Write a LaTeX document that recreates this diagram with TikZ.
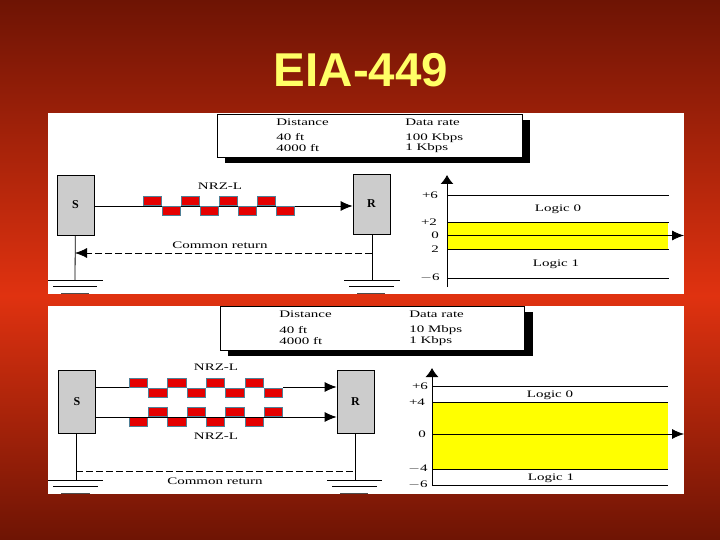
\documentclass[tikz,border=0pt]{standalone}
\usepackage{fontspec}
\setmainfont{Liberation Serif}
\newfontfamily\titlefont{Liberation Sans}
\usetikzlibrary{arrows.meta}
\definecolor{bgdark}{HTML}{6E1404}
\definecolor{bgbright}{HTML}{E03210}
\definecolor{pulseedge}{HTML}{4F7F96}
\definecolor{boxgray}{HTML}{CCCCCC}
\definecolor{levelyellow}{HTML}{FFFF00}
\definecolor{titleyellow}{HTML}{FFFF66}
\tikzset{
    lbl/.style={font=\fontsize{10}{10}\selectfont, inner sep=0pt, transform shape, xscale=1.5},
    lblleft/.style={lbl, anchor=west},
    station/.style={draw=black, fill=boxgray, line width=0.8pt, inner sep=0pt, minimum width=37pt, minimum height=60pt, font=\fontsize{12}{12}\selectfont\bfseries},
    pulse/.style={draw=pulseedge, fill=red!90!black, line width=1pt, inner sep=0pt, minimum width=18.4pt, minimum height=9pt},
    tabbox/.style={draw=black, fill=white, line width=0.8pt, inner sep=0pt},
    tip/.style={-{Latex[length=12pt,width=10pt]}},
    axtip/.style={-{Latex[length=9pt,width=13pt]}},
    retline/.style={dash pattern=on 7pt off 3pt},
}
\begin{document}
\begin{tikzpicture}[x=1pt, y=-1pt]
    \useasboundingbox (0,0) rectangle (720,540);
    % 背景和标题
    \shade[top color=bgdark, bottom color=bgbright] (0,0) rectangle (720,296);
    \shade[top color=bgbright, bottom color=bgdark] (0,295) rectangle (720,540);
    \node[font=\titlefont\bfseries\fontsize{47.5}{48}\selectfont, text=titleyellow, inner sep=0pt] (title) at (361,70) {EIA-449};

    % 两块白色面板
    \fill[white] (48,113) rectangle (684,294);
    \fill[white] (48,306) rectangle (684,494);

    % 上面的表格
    \fill[black] (225,120) rectangle (530,163);
    \node[tabbox, minimum width=305pt, minimum height=43pt] (tabA) at (369.5,135.5) {};
    \node[lblleft] (distA) at (276,122) {Distance};
    \node[lblleft] (distA1) at (276,137) {40 ft};
    \node[lblleft] (distA2) at (276,148) {4000 ft};
    \node[lblleft] (rateA) at (405,122) {Data rate};
    \node[lblleft] (rateA1) at (405,138) {100 Kbps};
    \node[lblleft] (rateA2) at (405,148) {1 Kbps};

    % 上面的收发两端
    \node[station] (sA) at (75.5,205) {S};
    \node[station] (rA) at (371.5,204) {R};
    \draw[tip, thick] (sA.east |- 0,206) -- (rA.west |- 0,206);
    \foreach \i in {0,...,7} {
        \ifodd\i \node[pulse] (pA\i) at ({152.5+\i*19},211) {};
        \else \node[pulse] (pA\i) at ({152.5+\i*19},201) {};
        \fi
    }
    \node[lbl] (nrzA) at (220,186) {NRZ-L};

    % 公共回路和接地
    \coordinate (gsA) at (75,280);
    \coordinate (grA) at (372,280);
    \draw[thick] (sA) -- (gsA);
    \draw[thick] (rA.south -| grA) -- (grA);
    \draw[thick] (48,280) -- (103,280) (53,286) -- (97,286);
    \draw[thick] (344,280) -- (400,280) (349,286) -- (394,286);
    \draw[line width=1.2pt, black!70] (61,293.4) -- (89,293.4) (357,293.4) -- (385,293.4);
    \coordinate (cA) at (372,253);
    \coordinate (cB) at (75,253);
    \draw[tip, retline, thick] (cA) -- (cB);
    \node[lbl] (retA) at (220,245) {Common return};

    % 上面的电平图
    \fill[levelyellow] (447,222) rectangle (668,249);
    \coordinate (axA0) at (447,287);
    \coordinate (axA1) at (447,175);
    \coordinate (zeA0) at (447,235.5);
    \coordinate (zeA1) at (684,235.5);
    \foreach \y in {195,222,249,278} \draw[thick] (447,\y) -- (669,\y);
    \draw[axtip, thick] (axA0) -- (axA1);
    \draw[tip, thick] (zeA0) -- (zeA1);
    \node[lbl] (vA1) at (430,195) {+6};
    \node[lbl] (vA2) at (429,222) {+2};
    \node[lbl] (vA3) at (435,235.5) {0};
    \node[lbl] (vA4) at (435,249) {2};
    \node[lbl] (vA5) at (430,278) {$-$6};
    \node[lbl] (logA0) at (558,209) {Logic 0};
    \node[lbl] (logA1) at (556,264) {Logic 1};

    % 下面的表格
    \fill[black] (228,312) rectangle (533,356);
    \node[tabbox, minimum width=304pt, minimum height=44pt] (tabB) at (372,328) {};
    \node[lblleft] (distB) at (279,314) {Distance};
    \node[lblleft] (distB1) at (279,330) {40 ft};
    \node[lblleft] (distB2) at (279,341) {4000 ft};
    \node[lblleft] (rateB) at (409,314) {Data rate};
    \node[lblleft] (rateB1) at (409,330) {10 Mbps};
    \node[lblleft] (rateB2) at (409,341) {1 Kbps};

    % 下面的收发两端
    \node[station, minimum height=63pt] (sB) at (77,401.5) {S};
    \node[station, minimum height=63pt] (rB) at (355.5,401.5) {R};
    \foreach \i in {0,...,7} {
        \ifodd\i
            \node[pulse] (pB\i) at ({138.5+\i*19.3},393) {};
            \node[pulse] (qB\i) at ({138.5+\i*19.3},411.5) {};
        \else
            \node[pulse] (pB\i) at ({138.5+\i*19.3},382.5) {};
            \node[pulse] (qB\i) at ({138.5+\i*19.3},421.5) {};
        \fi
    }
    \draw[tip, thick] (sB.east |- 0,387) -- (pB0.west |- 0,387) (pB7.east |- 0,387) -- (rB.west |- 0,387);
    \draw[tip, thick] (sB.east |- 0,417) -- (rB.west |- 0,417);
    \node[lbl] (nrzB1) at (216,367) {NRZ-L};
    \node[lbl] (nrzB2) at (216,436) {NRZ-L};

    % 公共回路和接地
    \coordinate (gsB) at (76,480);
    \coordinate (grB) at (355,480);
    \draw[thick] (sB.south -| gsB) -- (gsB);
    \draw[thick] (rB.south -| grB) -- (grB);
    \draw[thick] (48,480) -- (103,480) (53,486) -- (98,486);
    \draw[thick] (327,480) -- (382,480) (332,486) -- (377,486);
    \draw[line width=1.2pt, black!70] (61,493.4) -- (90,493.4) (340,493.4) -- (368,493.4);
    \coordinate (cC) at (76,471);
    \coordinate (cD) at (355,471);
    \draw[retline] (cC) -- (cD);
    \node[lbl] (retB) at (215,481) {Common return};

    % 下面的电平图
    \fill[levelyellow] (433,402) rectangle (668,469);
    \coordinate (axB0) at (432,486);
    \coordinate (axB1) at (432,368);
    \coordinate (zeB0) at (432,434);
    \coordinate (zeB1) at (684,434);
    \foreach \y in {386,402,469,485} \draw[thick] (432,\y) -- (668,\y);
    \draw[axtip, thick] (axB0) -- (axB1);
    \draw[tip, thick] (zeB0) -- (zeB1);
    \node[lbl] (vB1) at (420,386) {+6};
    \node[lbl] (vB2) at (417,402) {+4};
    \node[lbl] (vB3) at (422,434) {0};
    \node[lbl] (vB4) at (418,469) {$-$4};
    \node[lbl] (vB5) at (418,485) {$-$6};
    \node[lbl] (logB0) at (550,395) {Logic 0};
    \node[lbl] (logB1) at (551,478) {Logic 1};
\end{tikzpicture}
\end{document}
